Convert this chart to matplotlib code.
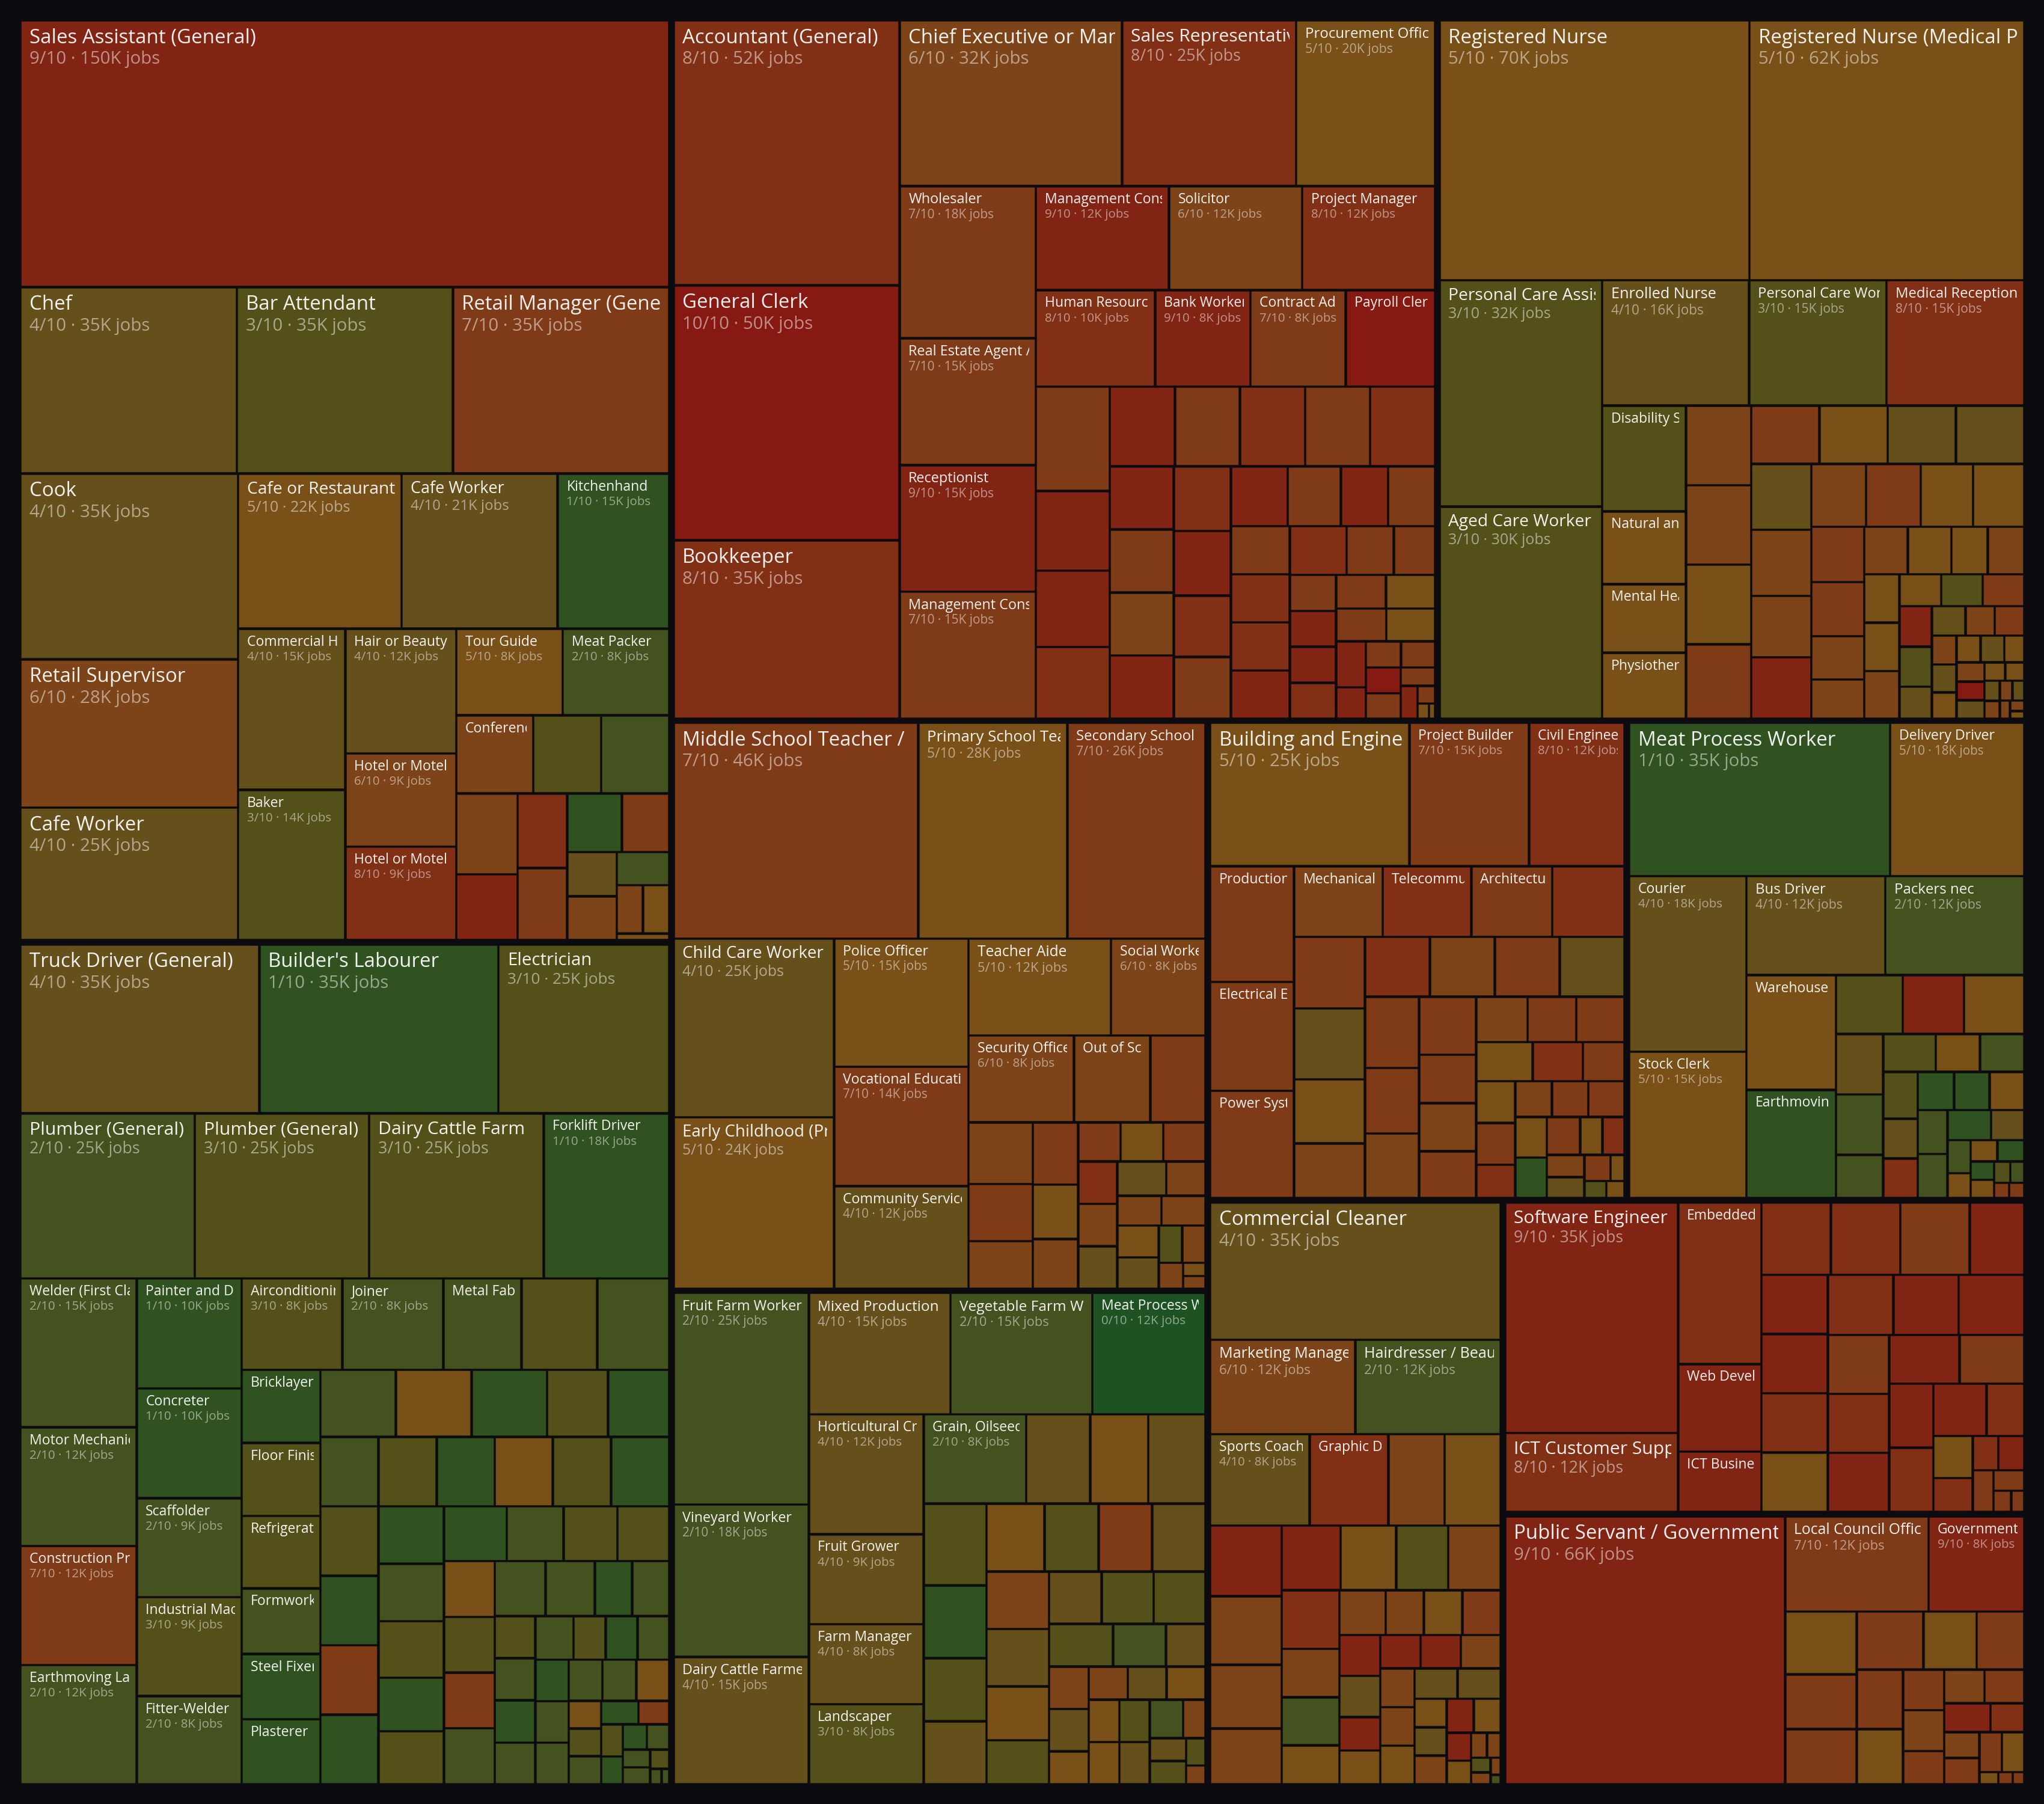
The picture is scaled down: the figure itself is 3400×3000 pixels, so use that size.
import matplotlib.pyplot as plt
from matplotlib.patches import Rectangle

plt.rcParams['font.family'] = ['Open Sans', 'DejaVu Sans']

BG = '#0b0b10'
# fill colour per exposure score 0..10 (green -> red)
score_colors = ['#1f5222', '#2f5220', '#43521e', '#535019', '#65501c', '#795017',
                '#7c4418', '#7f3a17', '#813016', '#822414', '#861a13']

# ---------------- data (jobs in thousands) ----------------
sales_names = ["Sales Assistant (General)", "Chef", "Bar Attendant", "Retail Manager (General)", "Cook",
               "Retail Supervisor", "Cafe Worker", "Cafe or Restaurant Manager", "Cafe Worker", "Kitchenhand",
               "Commercial Housekeeper", "Baker", "Hair or Beauty Salon Manager", "Hotel or Motel Receptionist",
               "Hotel or Motel Manager", "Tour Guide", "Meat Packer", "Conference and Event Organiser"]
sales_jobs = [150, 35, 35, 35, 35, 28, 25, 22, 21, 15, 15, 14, 12, 9, 9, 8, 8, 5.2, 4.6, 4.6,
              4.3, 3.5, 3.2, 3.1, 2.8, 2.4, 1.9, 1.9, 1.5, 1.1, 1.1, 0.3]
sales_scores = [9, 4, 3, 7, 4, 6, 4, 5, 4, 1, 4, 3, 4, 6, 8, 5, 2, 6, 3, 2,
                6, 9, 8, 7, 1, 7, 4, 6, 2, 6, 5, 5]

biz_names = ["Accountant (General)", "General Clerk", "Bookkeeper", "Chief Executive or Managing Director",
             "Sales Representative", "Procurement Officer", "Wholesaler", "Real Estate Agent / Salesperson",
             "Receptionist", "Management Consultant", "Management Consultant", "Solicitor", "Project Manager",
             "Human Resource Adviser", "Bank Worker", "Contract Administrator", "Payroll Clerk"]
biz_jobs = [52, 50, 35, 32, 25, 20, 18, 15, 15, 15, 12, 12, 12, 10, 8, 8, 7.5,
            6.7, 5.1, 4.9, 4.6, 4.5, 4.5, 4.5, 4.5, 4.5, 3.5, 3.5, 3.5, 3.5, 3.2, 3.2, 3.05, 3.05, 2.95, 2.75,
            2.45, 2.45, 2.45, 2.45, 2.45, 2.45, 2.4, 2.0, 1.75, 1.45, 1.45, 1.45, 1.45, 1.45, 1.43, 1.43, 1.4, 1.18,
            0.8, 0.8, 0.78, 0.78, 0.76, 0.55, 0.48, 0.27, 0.15, 0.08]
biz_scores = [8, 10, 8, 6, 8, 5, 7, 7, 9, 7, 9, 6, 8, 8, 9, 7, 10,
              7, 9, 9, 8, 9, 7, 8, 7, 8, 9, 7, 6, 9, 8, 9, 8, 7, 9, 7,
              9, 7, 7, 8, 8, 9, 8, 7, 7, 7, 9, 9, 8, 7, 5, 7, 5, 9,
              9, 7, 7, 10, 7, 7, 9, 7, 5, 5]

health_names = ["Registered Nurse", "Registered Nurse (Medical Practice)", "Personal Care Assistant",
                "Aged Care Worker", "Enrolled Nurse", "Personal Care Worker", "Medical Receptionist",
                "Disability Support Worker", "Natural and Complementary Therapist", "Mental Health Worker",
                "Physiotherapist"]
health_jobs = [70, 62, 32, 30, 16, 15, 15, 7.7, 5.3, 5.0, 4.8,
               4.5, 4.5, 4.5, 4.2, 3.45, 3.45, 3.45, 3.45, 3.45, 3.45, 3.2, 3.2, 3.0, 3.0, 2.85, 2.8,
               2.55, 2.5, 2.0, 1.8, 1.8, 1.8, 1.5, 1.5, 1.48, 1.48, 1.45, 1.16, 1.15, 1.15, 1.15, 1.13,
               0.9, 0.86, 0.75, 0.75, 0.62, 0.6, 0.56, 0.56, 0.55, 0.46, 0.46, 0.45, 0.44, 0.33, 0.3,
               0.27, 0.24, 0.22, 0.2, 0.16, 0.13, 0.09]
health_scores = [5, 5, 3, 3, 4, 3, 8, 3, 5, 5, 5,
                 6, 6, 5, 7, 7, 5, 4, 4, 4, 6, 6, 9, 6, 7, 5, 5,
                 7, 7, 6, 6, 6, 5, 5, 6, 5, 5, 6, 5, 3, 7, 9, 3,
                 4, 4, 6, 7, 6, 4, 5, 5, 4, 5, 6, 10, 4, 5, 5,
                 4, 6, 6, 4, 6, 6, 5]

edu_names = ["Middle School Teacher / Intermediate School Teacher", "Primary School Teacher",
             "Secondary School Teacher", "Child Care Worker", "Early Childhood (Pre-primary School) Teacher",
             "Police Officer", "Vocational Education Teacher", "Community Services Worker", "Teacher Aide",
             "Social Worker", "Security Officer", "Out of School Hours Care Worker"]
edu_jobs = [46, 28, 26, 25, 24, 15, 14, 12, 12, 8, 8, 5.8,
            4.2, 3.45, 3.2, 2.65, 2.45, 2.15, 1.95, 1.45, 1.45, 1.45, 1.45, 1.45, 1.45, 1.45,
            1.17, 1.15, 1.15, 1.15, 1.13, 0.76, 0.76, 0.55, 0.26, 0.25]
edu_scores = [7, 5, 7, 4, 5, 5, 7, 4, 5, 6, 6, 6,
              7, 6, 7, 6, 7, 5, 6, 7, 5, 7, 8, 6, 4, 4,
              6, 6, 6, 5, 4, 3, 6, 6, 5, 6]

eng_names = ["Building and Engineering Technician", "Project Builder", "Civil Engineer",
             "Production Manager (Manufacturing)", "Electrical Engineer", "Power Systems Engineer",
             "Mechanical Engineer", "Telecommunications Engineer", "Architectural Draftsperson"]
eng_jobs = [25, 15, 12, 8.5, 8.0, 7.9, 5.47, 5.47, 5.0,
            4.48, 4.45, 4.4, 3.97, 3.4, 3.4, 3.4, 3.4, 3.4, 3.37, 3.1, 3.05, 2.9, 2.43, 2.4, 2.35,
            2.03, 1.93, 1.93, 1.92, 1.72, 1.43, 1.43, 1.43, 1.14, 1.14, 1.14, 1.14, 1.12, 1.12, 1.1,
            0.74, 0.74, 0.73, 0.69, 0.6, 0.33, 0.33, 0.28]
eng_scores = [5, 7, 8, 7, 7, 7, 6, 8, 7,
              8, 7, 4, 5, 6, 8, 6, 7, 4, 7, 7, 6, 7, 7, 6, 7,
              6, 7, 7, 5, 8, 7, 5, 7, 8, 6, 7, 7, 5, 1, 7,
              5, 8, 6, 4, 7, 5, 3, 5]

trans_names = ["Meat Process Worker", "Delivery Driver", "Courier", "Stock Clerk", "Bus Driver",
               "Packers nec", "Warehouse Administrator", "Earthmoving Plant Operator"]
trans_jobs = [35, 18, 18, 15, 12, 12, 9.0, 8.5,
              3.45, 3.15, 3.1, 2.5, 2.5, 1.8, 1.75, 1.47, 1.47, 1.42, 1.2, 1.2, 1.2, 1.18,
              1.15, 1.15, 1.15, 1.15, 0.87, 0.66, 0.5, 0.5, 0.5, 0.38, 0.38, 0.3, 0.26, 0.2, 0.2]
trans_scores = [1, 5, 4, 5, 4, 2, 5, 1,
                3, 9, 5, 4, 2, 2, 3, 5, 2, 3, 4, 8, 1, 1,
                5, 2, 2, 1, 4, 2, 5, 5, 1, 1, 5, 3, 2, 7, 7]

trades_names = ["Truck Driver (General)", "Builder's Labourer", "Electrician", "Plumber (General)",
                "Plumber (General)", "Dairy Cattle Farm Worker", "Forklift Driver", "Welder (First Class)",
                "Motor Mechanic (General)", "Construction Project Manager", "Earthmoving Labourer",
                "Painter and Decorator", "Concreter", "Scaffolder", "Industrial Machinery Mechanic",
                "Fitter-Welder", "Airconditioning and Refrigeration Mechanic", "Joiner", "Metal Fabricator",
                "", "", "Bricklayer", "Floor Finisher", "Refrigeration Mechanic", "Formworker", "Steel Fixer",
                "Plasterer"]
trades_jobs = [35, 35, 25, 25, 25, 25, 18, 15, 12, 12, 12, 10, 10, 9, 9, 8, 8, 8, 6.2, 6.0, 5.7,
               5.0, 5.0, 4.95, 4.5, 4.45, 4.45,
               4.4, 4.4, 4.4, 3.55, 3.55,
               3.5, 3.5, 3.5, 3.5, 3.5, 3.5, 3.5, 3.5, 3.5, 3.5,
               3.26, 3.26, 3.22, 3.04, 3.0,
               2.98, 2.71, 2.55, 2.46,
               2.45, 2.45, 2.45, 2.45,
               2.44, 2.35, 1.78,
               1.77, 1.49, 1.47, 1.45,
               1.49, 1.49, 1.22, 1.17,
               1.2, 1.2, 1.2, 1.2, 1.2, 1.2, 1.2,
               0.78, 0.78, 0.78,
               0.76, 0.63,
               0.61, 0.52, 0.49,
               0.52, 0.42,
               0.4, 0.32, 0.15, 0.1]
trades_scores = [4, 1, 3, 2, 3, 3, 1, 2, 2, 7, 2, 1, 1, 2, 3, 2, 3, 2, 2, 3, 2,
                 1, 3, 3, 2, 1, 1,
                 2, 5, 1, 3, 1,
                 2, 3, 1, 7, 1, 3, 1, 5, 3, 1,
                 1, 2, 3, 1, 3,
                 1, 2, 3, 3,
                 5, 3, 7, 2,
                 2, 2, 1,
                 2, 3, 2, 2,
                 2, 1, 3, 5,
                 1, 2, 1, 2, 2, 2, 2,
                 5, 3, 2,
                 1, 7,
                 3, 1, 2,
                 1, 2,
                 2, 3, 2, 2]

agri_names = ["Fruit Farm Worker", "Vineyard Worker", "Dairy Cattle Farmer", "Mixed Production Farmer",
              "Vegetable Farm Worker", "Meat Process Worker", "Horticultural Crop Grower", "Fruit Grower",
              "Farm Manager", "Landscaper", "Grain, Oilseed or Pasture Grower"]
agri_jobs = [25, 18, 15, 15, 15, 12, 12, 9, 8, 8, 8,
             5.0, 4.5, 4.49, 4.49, 4.0, 3.47, 3.44, 3.44, 3.2, 3.17, 3.17, 3.14, 3.14, 2.93,
             2.4, 2.4, 2.38, 2.38, 2.37, 1.97, 1.47, 1.46, 1.46, 1.13, 1.13, 1.13, 1.13, 1.13,
             1.12, 1.12, 1.12, 1.12, 0.75, 0.73, 0.73, 0.47, 0.32]
agri_scores = [2, 2, 4, 4, 2, 0, 4, 4, 4, 3, 2,
               4, 5, 4, 3, 1, 3, 4, 5, 3, 7, 4, 6, 4, 5,
               3, 4, 3, 3, 3, 2, 4, 6, 4, 5, 6, 4, 5, 5,
               5, 3, 4, 2, 6, 4, 3, 3, 6]

serv_names = ["Commercial Cleaner", "Marketing Manager", "Hairdresser / Beauty Therapist", "Sports Coach",
              "Graphic Designer"]
serv_jobs = [35, 12, 12, 8, 6.3,
             4.5, 4.5, 4.45, 4.3, 4.0, 3.5, 3.35, 3.15, 2.97, 2.97, 2.97, 2.45, 2.45, 1.96,
             1.8, 1.5, 1.5, 1.5, 1.47, 1.47, 1.2, 1.2, 1.18, 1.18, 1.16, 1.16, 1.16, 1.15, 1.15, 1.15,
             0.8, 0.8, 0.8, 0.8, 0.8, 0.6, 0.5, 0.35, 0.3, 0.25, 0.2, 0.15, 0.08]
serv_scores = [4, 6, 2, 4, 8,
               6, 5, 9, 6, 6, 6, 9, 5, 3, 6, 8, 6, 2, 5,
               6, 6, 5, 7, 9, 4, 9, 5, 9, 9, 6, 6, 6, 5, 4, 4,
               5, 4, 6, 9, 5, 9, 5, 6, 6, 3, 6, 6, 2]

ict_names = ["Software Engineer", "ICT Customer Support Officer", "Embedded Systems Engineer",
             "Web Developer", "ICT Business Analyst"]
ict_jobs = [35, 12, 11.8, 6.4, 4.4,
            4.4, 4.4, 4.4, 3.45, 3.45, 3.45, 3.45, 3.45, 3.45, 3.45, 3.45, 3.18, 3.18, 3.18,
            3.0, 2.76, 2.48, 2.48, 2.43, 1.72, 1.45, 1.17, 0.77, 0.77, 0.76, 0.55, 0.33, 0.24]
ict_scores = [9, 8, 8, 9, 9,
              8, 8, 7, 9, 9, 9, 8, 5, 8, 9, 9, 7, 8, 9,
              9, 7, 9, 8, 9, 8, 5, 8, 8, 9, 7, 7, 7, 7]

gov_names = ["Public Servant / Government Officer", "Local Council Officer", "Government Administrator"]
gov_jobs = [66, 12, 8,
            3.95, 3.45, 3.45, 3.4, 2.72, 2.43, 2.42, 2.23, 1.47, 1.47, 1.2, 1.18, 1.17, 1.17,
            0.85, 0.8, 0.8, 0.8, 0.78, 0.2, 0.15, 0.12]
gov_scores = [9, 7, 9,
              5, 7, 7, 7, 5, 7, 7, 5, 7, 6, 7, 6, 7, 9,
              8, 6, 7, 7, 5, 5, 7, 7]

sectors = [
    (sales_names, sales_jobs, sales_scores),
    (biz_names, biz_jobs, biz_scores),
    (health_names, health_jobs, health_scores),
    (edu_names, edu_jobs, edu_scores),
    (eng_names, eng_jobs, eng_scores),
    (trans_names, trans_jobs, trans_scores),
    (trades_names, trades_jobs, trades_scores),
    (agri_names, agri_jobs, agri_scores),
    (serv_names, serv_jobs, serv_scores),
    (ict_names, ict_jobs, ict_scores),
    (gov_names, gov_jobs, gov_scores),
]


def squarify(values, x0, y0, x1, y1, ratio=1.0):
    # same row logic as d3.treemapSquarify; values must be sorted descending
    rects = [None] * len(values)
    n = len(values)
    value = float(sum(values))
    i0 = 0
    while i0 < n:
        dx, dy = x1 - x0, y1 - y0
        i1 = i0 + 1
        sum_v = min_v = max_v = values[i0]
        alpha = max(dy / dx, dx / dy) / (value * ratio)
        beta = sum_v * sum_v * alpha
        min_ratio = max(max_v / beta, beta / min_v)
        while i1 < n:
            v = values[i1]
            s = sum_v + v
            mn, mx = min(min_v, v), max(max_v, v)
            beta = s * s * alpha
            new_ratio = max(mx / beta, beta / mn)
            if new_ratio > min_ratio:
                break
            sum_v, min_v, max_v, min_ratio = s, mn, mx, new_ratio
            i1 += 1
        if dx < dy:
            ye = y0 + dy * sum_v / value if i1 < n else y1
            x = x0
            for i in range(i0, i1):
                w = dx * values[i] / sum_v
                rects[i] = (x, y0, x + w, ye)
                x += w
            y0 = ye
        else:
            xe = x0 + dx * sum_v / value if i1 < n else x1
            y = y0
            for i in range(i0, i1):
                h = dy * values[i] / sum_v
                rects[i] = (x0, y, xe, y + h)
                y += h
            x0 = xe
        value -= sum_v
        i0 = i1
    return rects


fig = plt.figure(figsize=(34, 30), dpi=100, facecolor=BG)
ax = fig.add_axes([0, 0, 1, 1])
ax.set_xlim(0, 3400)
ax.set_ylim(3000, 0)
ax.axis('off')
ax.set_facecolor(BG)
renderer = fig.canvas.get_renderer()


def fit_text(t, s, maxw):
    # keep the longest prefix that fits (last glyph may be partly clipped)
    t.set_text(s)
    if t.get_window_extent(renderer).width <= maxw:
        return
    lo, hi = 0, len(s)
    while lo < hi:
        mid = (lo + hi + 1) // 2
        t.set_text(s[:mid])
        if t.get_window_extent(renderer).width <= maxw:
            lo = mid
        else:
            hi = mid - 1
    t.set_text(s[:lo].rstrip())


def draw_cell(r, name, jobs, score):
    x0, y0, x1, y1 = r
    w, h = x1 - x0, y1 - y0
    ax.add_patch(Rectangle((x0, y0), w, h, facecolor=score_colors[score],
                           edgecolor=(0, 0, 0, 0.3), linewidth=0.8))
    if not name or w < 95 or h < 45:
        return
    fs = min(33, max(23, w / 9.5))
    clip = Rectangle((x0, y0), w - 9, h, transform=ax.transData)
    tx = x0 + 13.5
    maxw = w - 9 - 13.5 + 0.45 * fs
    base = y0 + 5 + 0.95 * fs
    t = ax.text(tx, base, name, fontsize=fs * 0.72, color='white', alpha=0.93,
                ha='left', va='baseline', clip_on=True)
    t.set_clip_path(clip)
    fit_text(t, name, maxw)
    if w >= 150 and h >= 80:
        ds = 0.89 * fs
        label = f"{score}/10 · {jobs:.0f}K jobs"
        t2 = ax.text(tx, base + 1.05 * fs, label, fontsize=ds * 0.72, color='white', alpha=0.5,
                     ha='left', va='baseline', clip_on=True)
        t2.set_clip_path(clip)
        fit_text(t2, label, maxw)


group_pad = 3.6
cell_pad = 1.75

totals = [sum(s[1]) for s in sectors]
order = sorted(range(len(sectors)), key=lambda i: -totals[i])
group_rects = squarify([totals[i] for i in order], 30, 30, 3370, 2970)

for gi, gr in zip(order, group_rects):
    names, jobs, scores = sectors[gi]
    names = list(names) + [""] * (len(jobs) - len(names))
    idx = sorted(range(len(jobs)), key=lambda i: -jobs[i])
    gx0, gy0, gx1, gy1 = gr[0] + group_pad, gr[1] + group_pad, gr[2] - group_pad, gr[3] - group_pad
    cells = squarify([jobs[i] for i in idx], gx0, gy0, gx1, gy1)
    for i, c in zip(idx, cells):
        r = (c[0] + cell_pad, c[1] + cell_pad, c[2] - cell_pad, c[3] - cell_pad)
        draw_cell(r, names[i], jobs[i], scores[i])

fig.savefig('out.png', dpi=100, facecolor=BG)
